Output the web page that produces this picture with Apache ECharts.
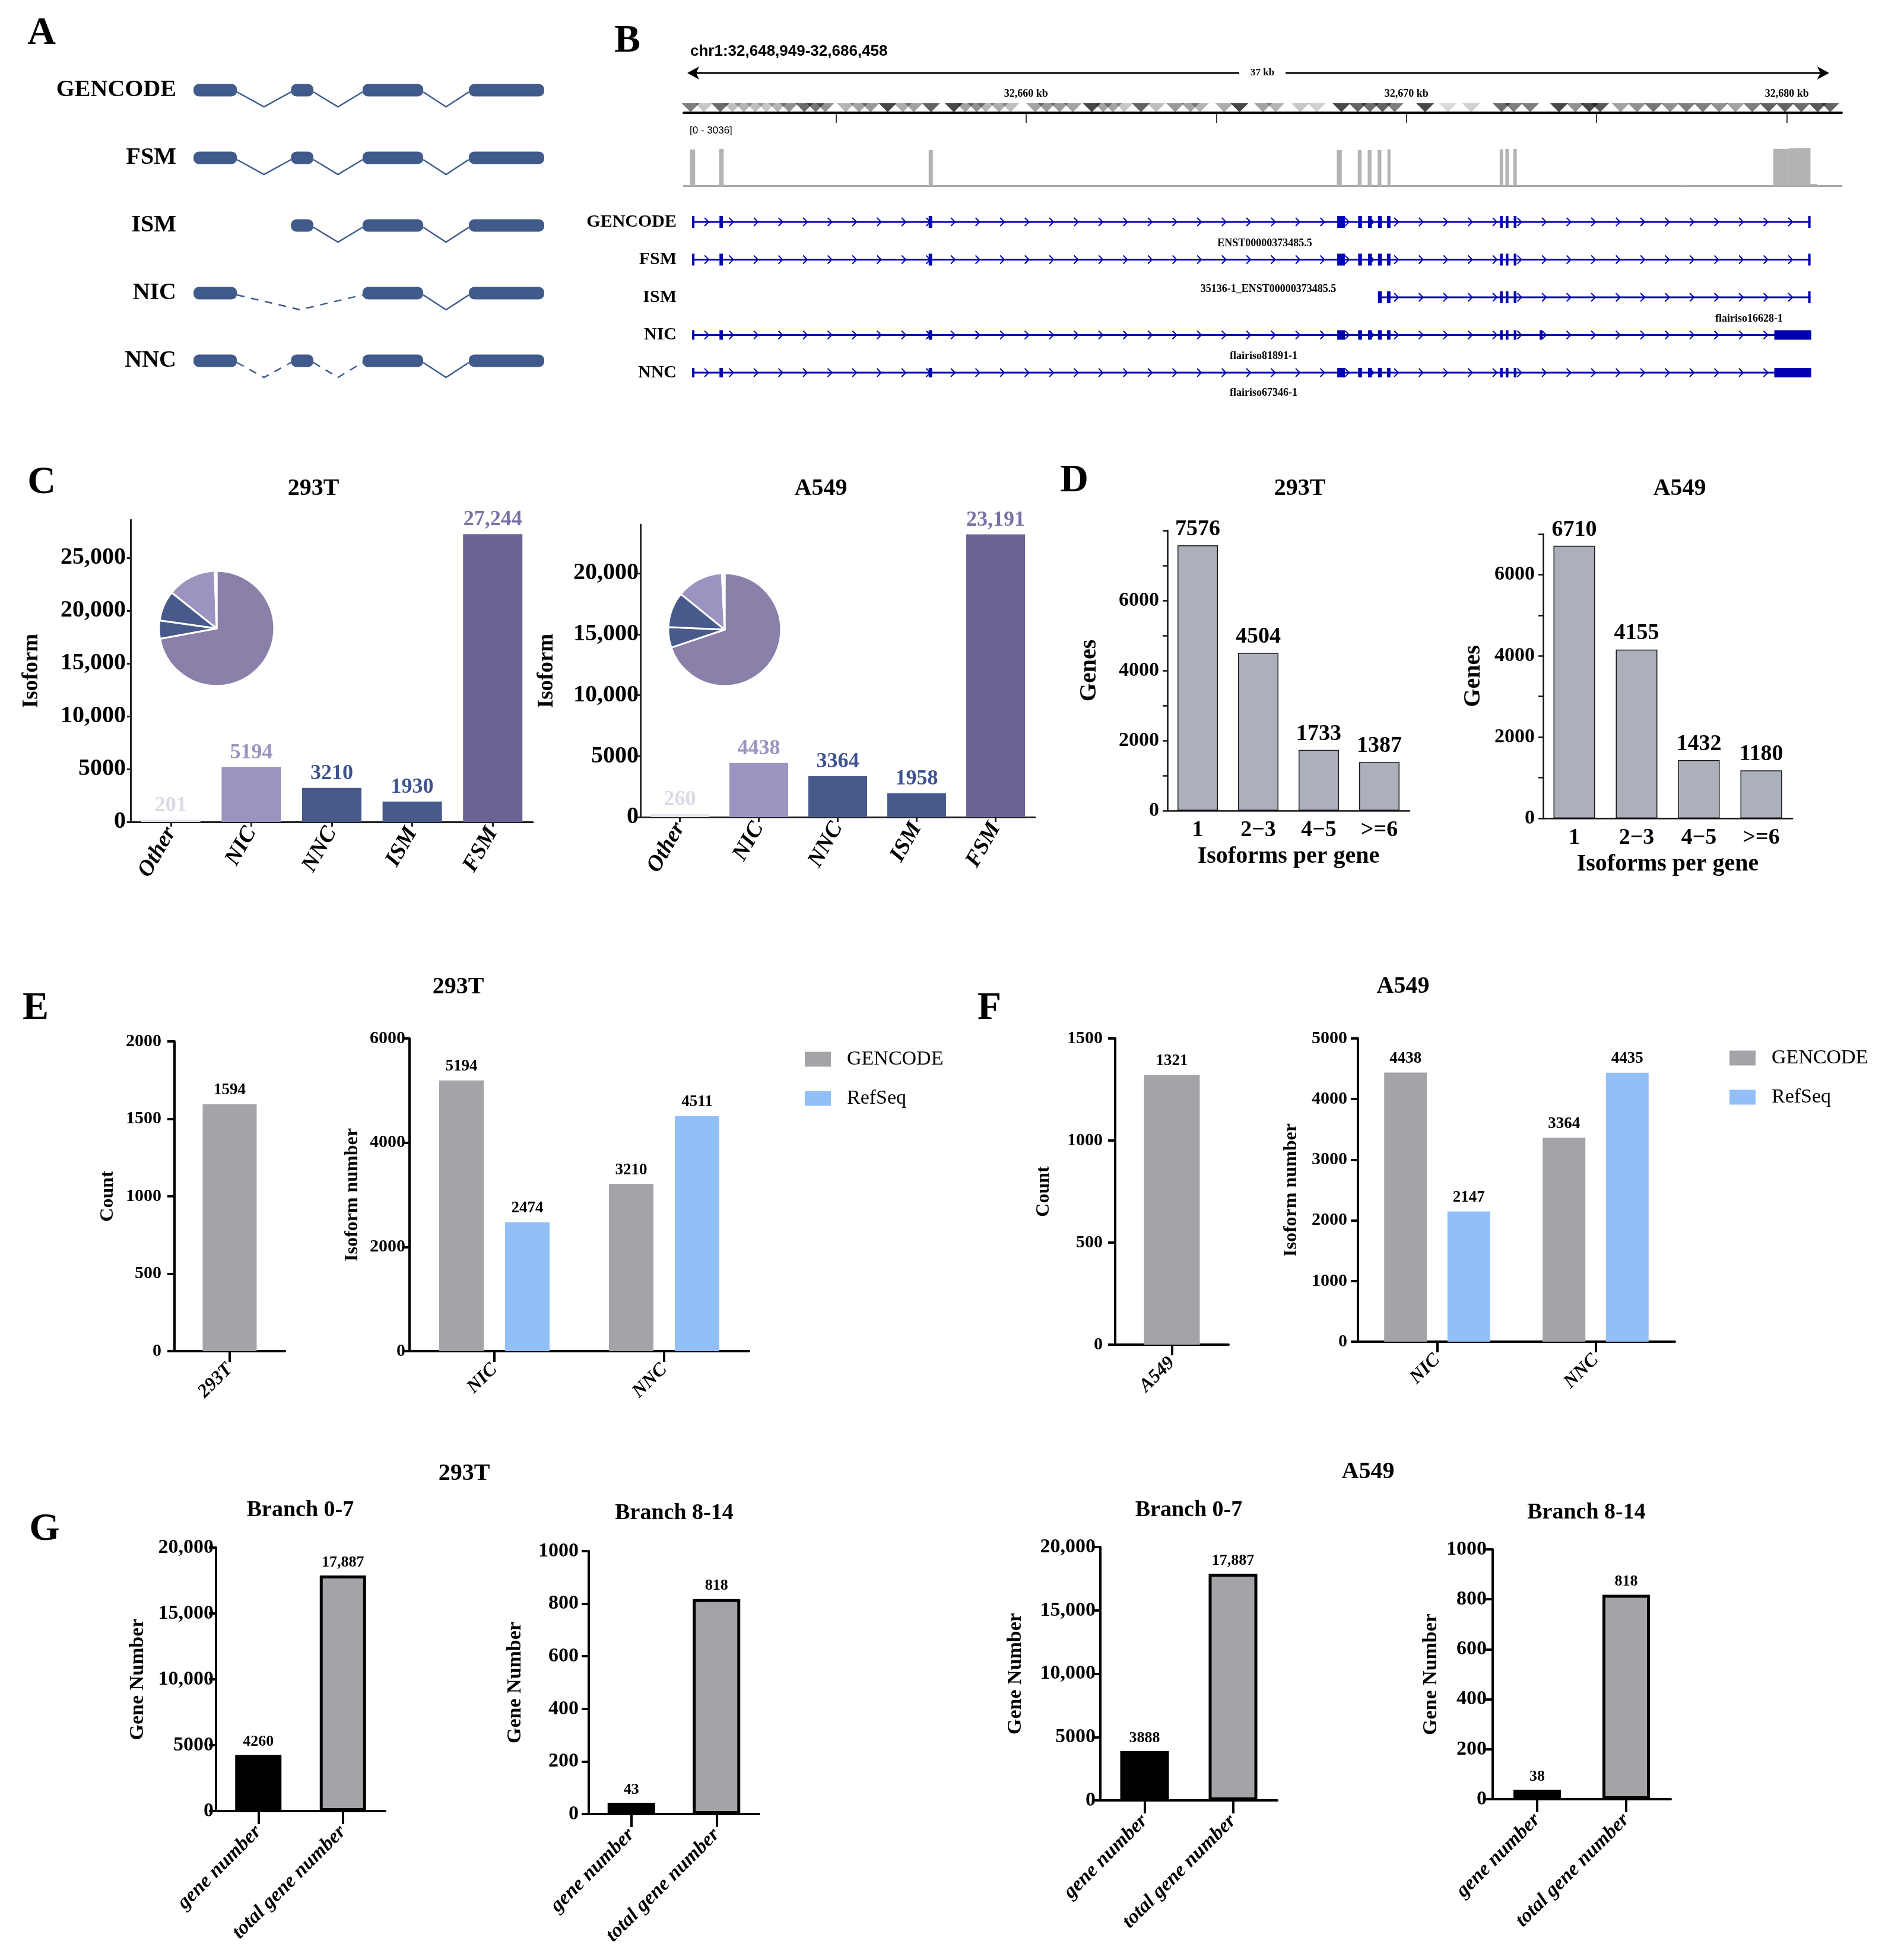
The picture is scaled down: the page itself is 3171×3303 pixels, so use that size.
<!DOCTYPE html>
<html>
<head>
<meta charset="utf-8">
<title>Isoform classification</title>
<script src="https://cdn.jsdelivr.net/npm/echarts@6.0.0/dist/echarts.min.js"></script>
<style>
    html, body { margin: 0; padding: 0; background: #fff; }
    #main { width: 3171px; height: 3303px; }
</style>
</head>
<body>
<div id="main"></div>
<script>
    // ---------- data ----------
    // A: schematic of the isoform classes (exon start/end in schematic units 0-100)
    var schemeRows = ['GENCODE', 'FSM', 'ISM', 'NIC', 'NNC'];
    var schemeExons = [
        [[0, 12.4], [27.8, 34.2], [48.2, 65.5], [78.5, 100]],
        [[0, 12.4], [27.8, 34.2], [48.2, 65.5], [78.5, 100]],
        [[27.8, 34.2], [48.2, 65.5], [78.5, 100]],
        [[0, 12.4], [48.2, 65.5], [78.5, 100]],
        [[0, 12.4], [27.8, 34.2], [48.2, 65.5], [78.5, 100]]
    ];
    var schemeNovelJunction = [[0, 0, 0], [0, 0, 0], [0, 0], [1, 0], [1, 1, 0]];

    // B: genome browser view (kb)
    var regionLabel = 'chr1:32,648,949-32,686,458';
    var viewKb = [32651.0, 32681.44];
    var rulerLabels = [32660, 32670, 32680];
    var rulerTicks = [32655, 32660, 32665, 32670, 32675, 32680];
    var cytoMarks = [
        [32651.18, 0.7], [32651.53, 0.3], [32651.96, 0.8], [32652.28, 0.35], [32652.58, 0.4],
        [32652.88, 0.35], [32653.17, 0.3], [32653.47, 0.4], [32653.77, 0.6], [32654.17, 0.8],
        [32654.47, 0.75], [32654.72, 0.6], [32655.26, 0.4], [32655.61, 0.5], [32655.91, 0.55],
        [32656.36, 1.0], [32656.76, 0.45], [32657.05, 0.5], [32657.50, 0.85], [32658.10, 1.0],
        [32658.40, 0.5], [32658.70, 0.6], [32658.94, 0.4], [32659.29, 0.45], [32659.59, 0.35],
        [32660.24, 0.5], [32660.54, 0.55], [32660.88, 0.55], [32661.23, 0.5], [32661.73, 1.0],
        [32662.03, 0.5], [32662.28, 0.5], [32662.58, 0.3], [32663.02, 0.85], [32663.42, 0.35],
        [32663.92, 0.55], [32664.32, 0.5], [32664.57, 0.4], [32665.21, 0.45], [32665.61, 1.0],
        [32666.23, 0.5], [32666.56, 0.4], [32667.21, 0.3], [32667.64, 0.25], [32668.29, 1.0],
        [32668.72, 0.85], [32669.04, 0.8], [32669.37, 0.85], [32669.69, 0.7], [32670.49, 1.0],
        [32671.09, 0.2], [32671.70, 0.25], [32672.50, 0.8], [32672.82, 0.7], [32673.25, 0.7],
        [32674.01, 1.0], [32674.44, 0.6], [32674.81, 1.0], [32675.09, 0.9], [32675.63, 0.5],
        [32676.06, 0.6], [32676.49, 0.75], [32676.93, 0.6], [32677.36, 0.7], [32677.79, 0.7],
        [32678.22, 0.6], [32678.65, 0.5], [32679.09, 0.7], [32679.52, 0.85], [32679.95, 0.85],
        [32680.38, 0.8], [32680.81, 0.9], [32681.14, 0.85]
    ];
    var coverageMax = 3036;
    var coverage = [   // [start kb, end kb, depth]
        [32651.16, 32651.30, 2900], [32651.93, 32652.05, 2950], [32657.44, 32657.55, 2850],
        [32668.17, 32668.30, 2850], [32668.72, 32668.82, 2850], [32668.98, 32669.08, 2850],
        [32669.24, 32669.34, 2850], [32669.50, 32669.58, 2900], [32672.45, 32672.54, 2900],
        [32672.60, 32672.69, 2950], [32672.81, 32672.90, 2950], [32677.30, 32677.40, 60],
        [32679.64, 32680.05, 2950], [32680.05, 32680.30, 2990], [32680.30, 32680.62, 3036],
        [32680.62, 32680.80, 150]
    ];
    var trackRows = ['GENCODE', 'FSM', 'ISM', 'NIC', 'NNC'];
    var trackSpans = [
        [32651.22, 32680.62], [32651.22, 32680.62], [32669.26, 32680.62],
        [32651.22, 32680.64], [32651.22, 32680.64]
    ];
    var exonsFull = [
        [32651.22, 32651.27], [32651.94, 32652.03], [32657.44, 32657.53], [32668.18, 32668.38],
        [32668.73, 32668.83], [32668.99, 32669.09], [32669.25, 32669.35], [32669.49, 32669.58],
        [32672.46, 32672.53], [32672.61, 32672.68], [32672.82, 32672.89]
    ];
    var trackExons = [
        exonsFull.concat([[32680.56, 32680.62]]),
        exonsFull.concat([[32680.56, 32680.62]]),
        exonsFull.slice(6).concat([[32680.56, 32680.62]]),
        exonsFull.concat([[32673.50, 32673.58], [32679.67, 32680.64]]),
        exonsFull.concat([[32679.67, 32680.64]])
    ];
    var trackNames = ['ENST00000373485.5', '35136-1_ENST00000373485.5', 'flairiso16628-1',
        'flairiso81891-1', 'flairiso67346-1'];

    // C: isoform classes
    var isoCats = ['Other', 'NIC', 'NNC', 'ISM', 'FSM'];
    var iso293T = [201, 5194, 3210, 1930, 27244];
    var isoA549 = [260, 4438, 3364, 1958, 23191];
    var isoTicks293T = [0, 5000, 10000, 15000, 20000, 25000];
    var isoTicksA549 = [0, 5000, 10000, 15000, 20000];

    // D: isoforms per gene
    var perGeneCats = ['1', '2\u22123', '4\u22125', '>=6'];
    var perGene293T = [7576, 4504, 1733, 1387];
    var perGeneA549 = [6710, 4155, 1432, 1180];
    var perGeneLabels = [0, 2000, 4000, 6000];
    var perGeneTicks293T = [0, 1000, 2000, 3000, 4000, 5000, 6000, 7000, 8000];
    var perGeneTicksA549 = [0, 1000, 2000, 3000, 4000, 5000, 6000, 7000];

    // E / F: novel isoforms vs annotation
    var countCat293T = ['293T'];
    var countCatA549 = ['A549'];
    var count293T = [1594];
    var countA549 = [1321];
    var countTicks293T = [0, 500, 1000, 1500, 2000];
    var countTicksA549 = [0, 500, 1000, 1500];
    var annoCats = ['NIC', 'NNC'];
    var gencode293T = [5194, 3210];
    var refseq293T = [2474, 4511];
    var gencodeA549 = [4438, 3364];
    var refseqA549 = [2147, 4435];
    var annoTicks293T = [0, 2000, 4000, 6000];
    var annoTicksA549 = [0, 1000, 2000, 3000, 4000, 5000];

    // G: branches
    var branchCats = ['gene number', 'total gene number'];
    var branch07_293T = [4260, 17887];
    var branch814_293T = [43, 818];
    var branch07_A549 = [3888, 17887];
    var branch814_A549 = [38, 818];
    var branchTicks07 = [0, 5000, 10000, 15000, 20000];
    var branchTicks814 = [0, 200, 400, 600, 800, 1000];

    // ---------- styles ----------
    var SERIF = '"Liberation Serif", "Times New Roman", serif';
    var SANS = '"Liberation Sans", Arial, sans-serif';
    var EXON_A = '#3f5a8b';
    var IGV_BLUE = '#0000b2';
    var isoBarColors = ['#e3e5ed', '#9c93c0', '#475a8b', '#475a8b', '#6c6294'];
    var isoLabelColors = ['#d9dbe6', '#9c93c0', '#3e5390', '#3e5390', '#7a71a8'];
    var pieOrder = [4, 3, 2, 1, 0];
    var pieColors = ['#8a80aa', '#475a8b', '#475a8b', '#9c93c0', '#eeeef3'];
    var trackExonHeight = [20, 20, 20, 16, 16];

    function fmt(v) {
        return v >= 10000 ? v.toLocaleString('en-US') : String(v);
    }

    var grids = [], xAxes = [], yAxes = [], series = [], graphics = [];

    function txt(text, x, y, size, o) {
        o = o || {};
        var align = o.align || 'center';
        graphics.push({
            type: 'text', x: x, y: y, silent: true, z: 10,
            style: {
                text: text, fill: o.color || '#000',
                fontFamily: o.family || SERIF, fontSize: size,
                fontWeight: o.weight || 'bold', fontStyle: o.italic ? 'italic' : 'normal',
                align: align, verticalAlign: 'middle',
                textAlign: align, textVerticalAlign: 'middle'
            }
        });
    }

    function barPanel(o) {
        var gi = grids.push({ left: o.box[0], top: o.box[1], width: o.box[2], height: o.box[3], outerBoundsMode: 'none' }) - 1;
        var ls = { color: o.axisColor, width: o.axisWidth };
        xAxes.push({
            type: 'category', gridIndex: gi, data: o.cats,
            axisLine: { show: true, onZero: false, lineStyle: ls },
            axisTick: { show: o.catTickLen > 0, alignWithLabel: true, length: o.catTickLen || 0, lineStyle: ls },
            axisLabel: {
                interval: 0, rotate: o.catRotate || 0, margin: o.catMargin, color: '#000',
                fontFamily: SERIF, fontWeight: 'bold', fontStyle: o.catItalic ? 'italic' : 'normal', fontSize: o.catSize
            },
            name: o.xName || '', nameLocation: 'middle', nameGap: o.xNameGap || 0, nameMoveOverlap: false,
            nameTextStyle: { color: '#000', fontFamily: SERIF, fontWeight: 'bold', fontSize: o.xNameSize || 12 }
        });
        yAxes.push({
            type: 'value', gridIndex: gi, min: 0, max: o.max,
            splitLine: { show: false },
            axisLine: { show: true, lineStyle: ls },
            axisTick: { show: true, customValues: o.ticks, length: o.tickLen, lineStyle: ls },
            axisLabel: {
                customValues: o.labels || o.ticks, formatter: fmt, margin: o.labelMargin, color: '#000',
                fontFamily: SERIF, fontWeight: 'bold', fontSize: o.tickSize
            },
            name: o.yName, nameLocation: 'middle', nameGap: o.yNameGap, nameRotate: 90, nameMoveOverlap: false,
            nameTextStyle: { color: '#000', fontFamily: SERIF, fontWeight: 'bold', fontSize: o.yNameSize }
        });
        var xi = xAxes.length - 1, yi = yAxes.length - 1;
        o.series.forEach(function (s) {
            series.push(Object.assign({ type: 'bar', xAxisIndex: xi, yAxisIndex: yi }, s));
        });
    }

    function valueLabel(size, dist, color) {
        return {
            show: true, position: 'top', distance: dist, color: color || '#000',
            fontFamily: SERIF, fontWeight: 'bold', fontSize: size,
            formatter: function (p) { return fmt(p.value); }
        };
    }

    // ---------- panel A ----------
    grids.push({ left: 326, top: 152, width: 591, height: 456, outerBoundsMode: 'none' });
    xAxes.push({ type: 'value', gridIndex: grids.length - 1, min: 0, max: 100, show: false });
    yAxes.push({
        type: 'category', gridIndex: grids.length - 1, data: schemeRows, inverse: true, boundaryGap: false,
        axisLine: { show: false }, axisTick: { show: false }, splitLine: { show: false },
        axisLabel: { margin: 29, color: '#000', fontFamily: SERIF, fontWeight: 'bold', fontSize: 40 }
    });
    var aX = xAxes.length - 1, aY = yAxes.length - 1;
    var schemeExonData = [], schemeIntronData = [];
    schemeExons.forEach(function (list, r) {
        list.forEach(function (e, k) {
            schemeExonData.push([e[0], e[1], r]);
            if (k < list.length - 1) schemeIntronData.push([e[1], list[k + 1][0], r, schemeNovelJunction[r][k]]);
        });
    });
    series.push({
        type: 'custom', xAxisIndex: aX, yAxisIndex: aY, encode: { x: [0, 1], y: 2 }, silent: true,
        data: schemeIntronData,
        renderItem: function (params, api) {
            var a = api.coord([api.value(0), api.value(2)]);
            var b = api.coord([api.value(1), api.value(2)]);
            return {
                type: 'polyline',
                shape: { points: [[a[0], a[1] + 3], [(a[0] + b[0]) / 2, a[1] + 28], [b[0], b[1] + 3]] },
                style: { stroke: EXON_A, lineWidth: 2.5, fill: null, lineDash: api.value(3) ? [13, 11] : null }
            };
        }
    });
    series.push({
        type: 'custom', xAxisIndex: aX, yAxisIndex: aY, encode: { x: [0, 1], y: 2 }, silent: true,
        data: schemeExonData,
        renderItem: function (params, api) {
            var a = api.coord([api.value(0), api.value(2)]);
            var b = api.coord([api.value(1), api.value(2)]);
            return {
                type: 'rect',
                shape: { x: a[0], y: a[1] - 10.5, width: b[0] - a[0], height: 21, r: 9 },
                style: { fill: EXON_A }
            };
        }
    });

    // ---------- panel B ----------
    // ideogram strip with ruler
    grids.push({ left: 1152, top: 173, width: 1951, height: 17, outerBoundsMode: 'none' });
    var cg = grids.length - 1;
    xAxes.push({
        type: 'value', gridIndex: cg, position: 'top', min: viewKb[0], max: viewKb[1],
        axisLine: { show: false }, splitLine: { show: false },
        axisTick: { show: true, inside: true, length: 17, customValues: rulerTicks, lineStyle: { color: '#000', width: 1.5 } },
        axisLabel: {
            customValues: rulerLabels, margin: 6, color: '#000', fontFamily: SERIF, fontWeight: 'bold', fontSize: 18,
            formatter: function (v) { return v.toLocaleString('en-US') + ' kb'; }
        }
    });
    var cytoX = xAxes.length - 1;
    xAxes.push({
        type: 'value', gridIndex: cg, position: 'bottom', min: viewKb[0], max: viewKb[1],
        axisLine: { show: true, onZero: false, lineStyle: { color: '#000', width: 4 } },
        axisTick: { show: false }, axisLabel: { show: false }, splitLine: { show: false }
    });
    yAxes.push({ type: 'value', gridIndex: cg, min: 0, max: 1, show: false });
    var cytoY = yAxes.length - 1;
    series.push({
        type: 'custom', xAxisIndex: cytoX, yAxisIndex: cytoY, encode: { x: 0, y: 1 }, silent: true,
        data: cytoMarks,
        renderItem: function (params, api) {
            var top = api.coord([api.value(0), 1]);
            var bot = api.coord([api.value(0), 0]);
            return {
                type: 'polygon',
                shape: { points: [[top[0] - 15, top[1] + 1], [top[0] + 15, top[1] + 1], [bot[0], bot[1] - 1]] },
                style: { fill: 'rgba(25,25,25,' + (api.value(1) * 0.8) + ')' }
            };
        }
    });

    // coverage track
    grids.push({ left: 1152, top: 249, width: 1951, height: 64, outerBoundsMode: 'none' });
    var vg = grids.length - 1;
    xAxes.push({
        type: 'value', gridIndex: vg, min: viewKb[0], max: viewKb[1],
        axisLine: { show: true, onZero: false, lineStyle: { color: '#a9a9a9', width: 3 } },
        axisTick: { show: false }, axisLabel: { show: false }, splitLine: { show: false }
    });
    yAxes.push({ type: 'value', gridIndex: vg, min: 0, max: coverageMax, show: false });
    series.push({
        type: 'custom', xAxisIndex: xAxes.length - 1, yAxisIndex: yAxes.length - 1,
        encode: { x: [0, 1], y: 2 }, silent: true, data: coverage,
        renderItem: function (params, api) {
            var a = api.coord([api.value(0), api.value(2)]);
            var b = api.coord([api.value(1), 0]);
            return {
                type: 'rect',
                shape: { x: a[0], y: a[1], width: Math.max(b[0] - a[0], 5), height: b[1] - a[1] },
                style: { fill: '#b3b3b3' }
            };
        }
    });

    // transcript tracks
    grids.push({ left: 1152, top: 374, width: 1951, height: 254, outerBoundsMode: 'none' });
    var tg = grids.length - 1;
    xAxes.push({ type: 'value', gridIndex: tg, min: viewKb[0], max: viewKb[1], show: false });
    yAxes.push({
        type: 'category', gridIndex: tg, data: trackRows, inverse: true, boundaryGap: false,
        axisLine: { show: false }, axisTick: { show: false }, splitLine: { show: false },
        axisLabel: { margin: 12, color: '#000', fontFamily: SERIF, fontWeight: 'bold', fontSize: 30 }
    });
    var tX = xAxes.length - 1, tY = yAxes.length - 1;
    var trackLineData = trackSpans.map(function (s, i) { return [s[0], s[1], i]; });
    var trackExonData = [];
    trackExons.forEach(function (list, i) {
        list.forEach(function (e) { trackExonData.push([e[0], e[1], i]); });
    });
    series.push({
        type: 'custom', xAxisIndex: tX, yAxisIndex: tY, encode: { x: [0, 1], y: 2 }, silent: true,
        data: trackLineData,
        renderItem: function (params, api) {
            var a = api.coord([api.value(0), api.value(2)]);
            var b = api.coord([api.value(1), api.value(2)]);
            var phase = api.coord([trackSpans[0][0], 0])[0] + 25;
            var y = a[1];
            var kids = [{ type: 'line', shape: { x1: a[0], y1: y, x2: b[0], y2: y }, style: { stroke: IGV_BLUE, lineWidth: 3 } }];
            for (var x = phase; x < b[0] - 10; x += 41.5) {
                if (x < a[0] + 10) continue;
                kids.push({
                    type: 'polyline',
                    shape: { points: [[x - 4, y - 7], [x + 3, y], [x - 4, y + 7]] },
                    style: { stroke: IGV_BLUE, lineWidth: 2, fill: null }
                });
            }
            return { type: 'group', children: kids };
        }
    });
    series.push({
        type: 'custom', xAxisIndex: tX, yAxisIndex: tY, encode: { x: [0, 1], y: 2 }, silent: true,
        data: trackExonData,
        renderItem: function (params, api) {
            var r = api.value(2);
            var a = api.coord([api.value(0), r]);
            var b = api.coord([api.value(1), r]);
            var h = trackExonHeight[r];
            return {
                type: 'rect',
                shape: { x: a[0], y: a[1] - h / 2, width: Math.max(b[0] - a[0], 4), height: h },
                style: { fill: IGV_BLUE }
            };
        }
    });

    // ---------- panel C ----------
    function isoData(vals) {
        return vals.map(function (v, i) {
            return { value: v, itemStyle: { color: isoBarColors[i] }, label: { color: isoLabelColors[i] } };
        });
    }
    var cCommon = {
        cats: isoCats, axisColor: '#222', axisWidth: 3, catTickLen: 8, catRotate: 60, catItalic: true,
        catSize: 38, catMargin: 12, tickLen: 6, tickSize: 40, yName: 'Isoform', yNameSize: 37
    };
    barPanel(Object.assign({}, cCommon, {
        box: [220, 876, 678, 509], max: 28600, ticks: isoTicks293T, yNameGap: 148, labelMargin: 8,
        series: [{ barWidth: 100, data: isoData(iso293T), label: valueLabel(36, 6) }]
    }));
    barPanel(Object.assign({}, cCommon, {
        box: [1079, 884, 665, 493], max: 24000, ticks: isoTicksA549, yNameGap: 139, labelMargin: 3,
        series: [{ barWidth: 99, data: isoData(isoA549), label: valueLabel(36, 6) }]
    }));
    function pieSeries(vals, center, radius) {
        return {
            type: 'pie', center: center, radius: radius, startAngle: 90, clockwise: true, silent: true,
            label: { show: false }, labelLine: { show: false },
            itemStyle: { borderColor: '#fff', borderWidth: 3 },
            data: pieOrder.map(function (i, k) {
                return { name: isoCats[i], value: vals[i], itemStyle: { color: pieColors[k] } };
            })
        };
    }
    series.push(pieSeries(iso293T, [365, 1059], 97));
    series.push(pieSeries(isoA549, [1221, 1061], 95));

    // ---------- panel D ----------
    var dCommon = {
        cats: perGeneCats, axisColor: '#111', axisWidth: 2.5, catTickLen: 0, catSize: 38, catMargin: 14,
        tickLen: 8, labelMargin: 14, tickSize: 34, labels: perGeneLabels, yName: 'Genes', yNameSize: 40,
        xName: 'Isoforms per gene', xNameGap: 58, xNameSize: 40
    };
    var dBar = { color: '#abb0bb', borderColor: '#1a1a1a', borderWidth: 1.5 };
    barPanel(Object.assign({}, dCommon, {
        box: [1967, 894, 408, 472], max: 8000, ticks: perGeneTicks293T, yNameGap: 111,
        series: [{ barWidth: 68, data: perGene293T, itemStyle: dBar, label: valueLabel(38, 8) }]
    }));
    barPanel(Object.assign({}, dCommon, {
        box: [2600, 900, 420, 479], max: 7000, ticks: perGeneTicksA549, yNameGap: 97,
        series: [{ barWidth: 70, data: perGeneA549, itemStyle: dBar, label: valueLabel(38, 8) }]
    }));

    // ---------- panels E / F ----------
    var efCommon = {
        axisColor: '#000', axisWidth: 4, catTickLen: 18, catRotate: 45, catItalic: true, catSize: 32,
        catMargin: 26, tickLen: 12, tickSize: 30, yNameSize: 32
    };
    var GREY = '#a4a3a8', BLUE = '#92bff7';
    barPanel(Object.assign({}, efCommon, {
        box: [294, 1755, 186, 522], cats: countCat293T, max: 2000, ticks: countTicks293T,
        yName: 'Count', yNameGap: 96, labelMargin: 22,
        series: [{ barWidth: 91, data: count293T, itemStyle: { color: GREY }, label: valueLabel(27, 10) }]
    }));
    barPanel(Object.assign({}, efCommon, {
        box: [690, 1750, 572, 527], cats: annoCats, max: 6000, ticks: annoTicks293T,
        yName: 'Isoform number', yNameGap: 80, labelMargin: 7,
        series: [
            { name: 'GENCODE', barWidth: 75, barGap: '48%', data: gencode293T, itemStyle: { color: GREY }, label: valueLabel(27, 10) },
            { name: 'RefSeq', barWidth: 75, barGap: '48%', data: refseq293T, itemStyle: { color: BLUE }, label: valueLabel(27, 10) }
        ]
    }));
    barPanel(Object.assign({}, efCommon, {
        box: [1879, 1750, 191, 516], cats: countCatA549, max: 1500, ticks: countTicksA549,
        yName: 'Count', yNameGap: 104, labelMargin: 21,
        series: [{ barWidth: 94, data: countA549, itemStyle: { color: GREY }, label: valueLabel(27, 10) }]
    }));
    barPanel(Object.assign({}, efCommon, {
        box: [2288, 1750, 534, 511], cats: annoCats, max: 5000, ticks: annoTicksA549,
        yName: 'Isoform number', yNameGap: 96, labelMargin: 18,
        series: [
            { name: 'GENCODE', barWidth: 72, barGap: '48%', data: gencodeA549, itemStyle: { color: GREY }, label: valueLabel(27, 10) },
            { name: 'RefSeq', barWidth: 72, barGap: '48%', data: refseqA549, itemStyle: { color: BLUE }, label: valueLabel(27, 10) }
        ]
    }));

    // ---------- panel G ----------
    function branchData(vals) {
        return [
            { value: vals[0], itemStyle: { color: '#000' } },
            { value: vals[1], itemStyle: { color: '#a3a3a8', borderColor: '#000', borderWidth: 5 } }
        ];
    }
    var gCommon = {
        cats: branchCats, axisColor: '#000', axisWidth: 4, catTickLen: 22, catRotate: 45, catItalic: true,
        catSize: 34, catMargin: 30, tickLen: 12, tickSize: 34, yName: 'Gene Number', yNameSize: 34
    };
    barPanel(Object.assign({}, gCommon, {
        box: [364, 2608, 285, 444], max: 20000, ticks: branchTicks07, yNameGap: 115, labelMargin: 4,
        series: [{ barWidth: 78, data: branchData(branch07_293T), label: valueLabel(26, 9) }]
    }));
    barPanel(Object.assign({}, gCommon, {
        box: [992, 2614, 287, 443], max: 1000, ticks: branchTicks814, yNameGap: 107, labelMargin: 17,
        series: [{ barWidth: 80, data: branchData(branch814_293T), label: valueLabel(26, 9) }]
    }));
    barPanel(Object.assign({}, gCommon, {
        box: [1854, 2607, 298, 427], max: 20000, ticks: branchTicks07, yNameGap: 126, labelMargin: 8,
        series: [{ barWidth: 82, data: branchData(branch07_A549), label: valueLabel(26, 9) }]
    }));
    barPanel(Object.assign({}, gCommon, {
        box: [2515, 2611, 300, 421], max: 1000, ticks: branchTicks814, yNameGap: 87, labelMargin: 10,
        series: [{ barWidth: 80, data: branchData(branch814_A549), label: valueLabel(26, 9) }]
    }));

    // ---------- free text ----------
    txt('A', 70, 57, 66);
    txt('B', 1057, 70, 66);
    txt('C', 70, 814, 66);
    txt('D', 1810, 811, 66);
    txt('E', 60, 1700, 66);
    txt('F', 1667, 1700, 66);
    txt('G', 75, 2578, 66);

    txt(regionLabel, 1163, 87, 26, { family: SANS, align: 'left' });
    txt('37 kb', 2127, 123, 17);
    txt('[0 - 3036]', 1162, 220, 17, { family: SANS, weight: 'normal', align: 'left' });
    txt(trackNames[0], 2131, 410, 18);
    txt(trackNames[1], 2137, 487, 18);
    txt(trackNames[2], 2947, 537, 18);
    txt(trackNames[3], 2129, 600, 18);
    txt(trackNames[4], 2129, 662, 18);

    txt('293T', 528, 824, 40);
    txt('A549', 1383, 824, 40);
    txt('293T', 2190, 824, 40);
    txt('A549', 2830, 824, 40);
    txt('293T', 772, 1664, 40);
    txt('A549', 2364, 1663, 40);
    txt('293T', 782, 2484, 40);
    txt('A549', 2305, 2481, 40);
    txt('Branch 0-7', 506, 2545, 38);
    txt('Branch 8-14', 1136, 2550, 38);
    txt('Branch 0-7', 2003, 2545, 38);
    txt('Branch 8-14', 2673, 2549, 38);

    // scale arrow of the browser view
    graphics.push(
        { type: 'line', silent: true, shape: { x1: 1168, y1: 123, x2: 2088, y2: 123 }, style: { stroke: '#000', lineWidth: 3 } },
        { type: 'line', silent: true, shape: { x1: 2166, y1: 123, x2: 3072, y2: 123 }, style: { stroke: '#000', lineWidth: 3 } },
        { type: 'polygon', silent: true, shape: { points: [[1158, 123], [1178, 112], [1173, 123], [1178, 134]] }, style: { fill: '#000' } },
        { type: 'polygon', silent: true, shape: { points: [[3082, 123], [3062, 112], [3067, 123], [3062, 134]] }, style: { fill: '#000' } }
    );

    var legendBase = {
        orient: 'vertical', icon: 'rect', itemWidth: 44, itemHeight: 25, itemGap: 32, padding: 0,
        selectedMode: false, data: ['GENCODE', 'RefSeq'],
        textStyle: { color: '#000', fontFamily: SERIF, fontSize: 34, padding: [0, 0, 0, 22] }
    };

    var chart = echarts.init(document.getElementById('main'));
    chart.setOption({
        animation: false,
        backgroundColor: '#fff',
        grid: grids,
        xAxis: xAxes,
        yAxis: yAxes,
        legend: [
            Object.assign({ left: 1356, top: 1768 }, legendBase),
            Object.assign({ left: 2914, top: 1766 }, legendBase)
        ],
        graphic: graphics,
        series: series
    });

    window.addEventListener('resize', function () { chart.resize(); });
</script>
</body>
</html>
